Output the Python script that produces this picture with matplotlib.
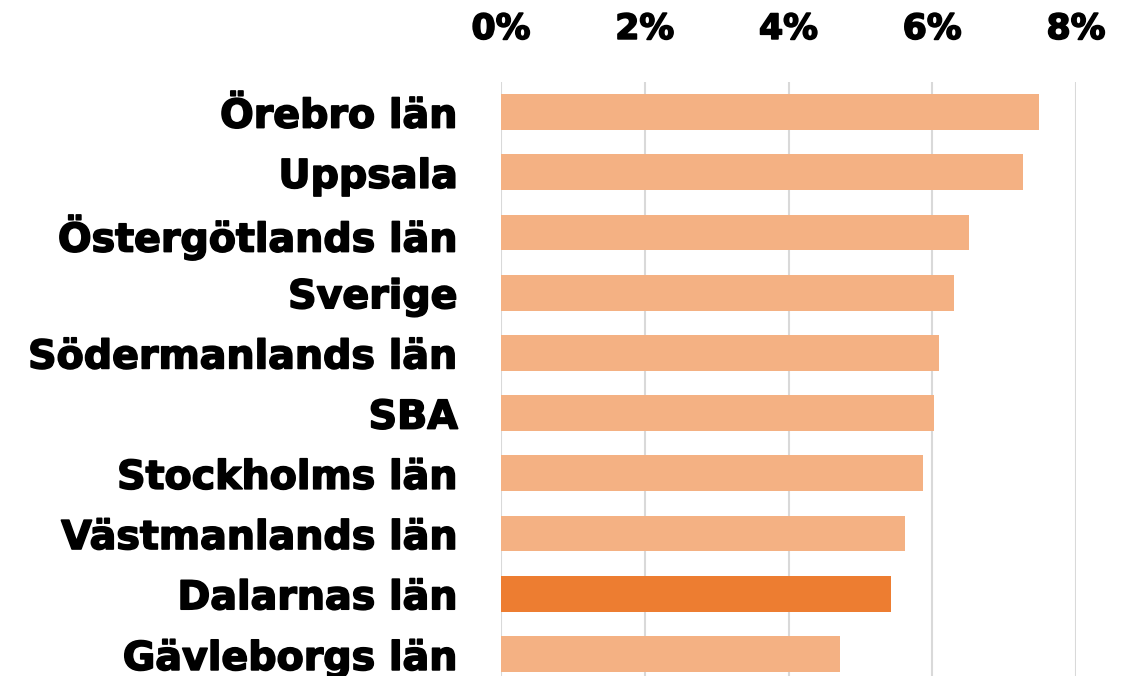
import numpy as np
import matplotlib.pyplot as plt
import matplotlib.patheffects as pe
from matplotlib.ticker import FuncFormatter

regions = ["Örebro län", "Uppsala", "Östergötlands län", "Sverige",
           "Södermanlands län", "SBA", "Stockholms län", "Västmanlands län",
           "Dalarnas län", "Gävleborgs län"]
values = [7.49, 7.26, 6.51, 6.30, 6.10, 6.02, 5.87, 5.62, 5.43, 4.72]
highlight = "Dalarnas län"

light = "#F4B183"
dark = "#ED7D31"
colors = [dark if r == highlight else light for r in regions]

fig = plt.figure(figsize=(11.35, 6.76), dpi=100)
ax = fig.add_axes([501 / 1135, -8 / 676, 575 / 1135, 602 / 676])

y = np.arange(len(regions))
ax.barh(y, values, height=0.593, color=colors, zorder=2)
ax.set_ylim(len(regions) - 0.5, -0.5)
ax.set_xlim(0, 8)
ax.set_xticks([0, 2, 4, 6, 8])
ax.xaxis.set_major_formatter(FuncFormatter(lambda v, p: f"{v:.0f}%"))
ax.xaxis.tick_top()
ax.grid(axis="x", color="#D9D9D9", linewidth=1.5, zorder=0)
for s in ax.spines.values():
    s.set_visible(False)

# heavier look for the bold labels
heavy = [pe.withStroke(linewidth=1.2, foreground="black")]

ax.set_yticks(y)
ax.set_yticklabels(regions, fontsize=28.5, family="DejaVu Sans", weight="bold")
ax.tick_params(axis="y", length=0, pad=31)
ax.tick_params(axis="x", length=0, pad=26)
for lbl in ax.get_yticklabels():
    lbl.set_path_effects(heavy)
for lbl in ax.get_xticklabels():
    lbl.set_fontsize(25)
    lbl.set_fontfamily("DejaVu Sans")
    lbl.set_fontweight("bold")
    lbl.set_path_effects(heavy)

fig.savefig("out.png", dpi=100)
